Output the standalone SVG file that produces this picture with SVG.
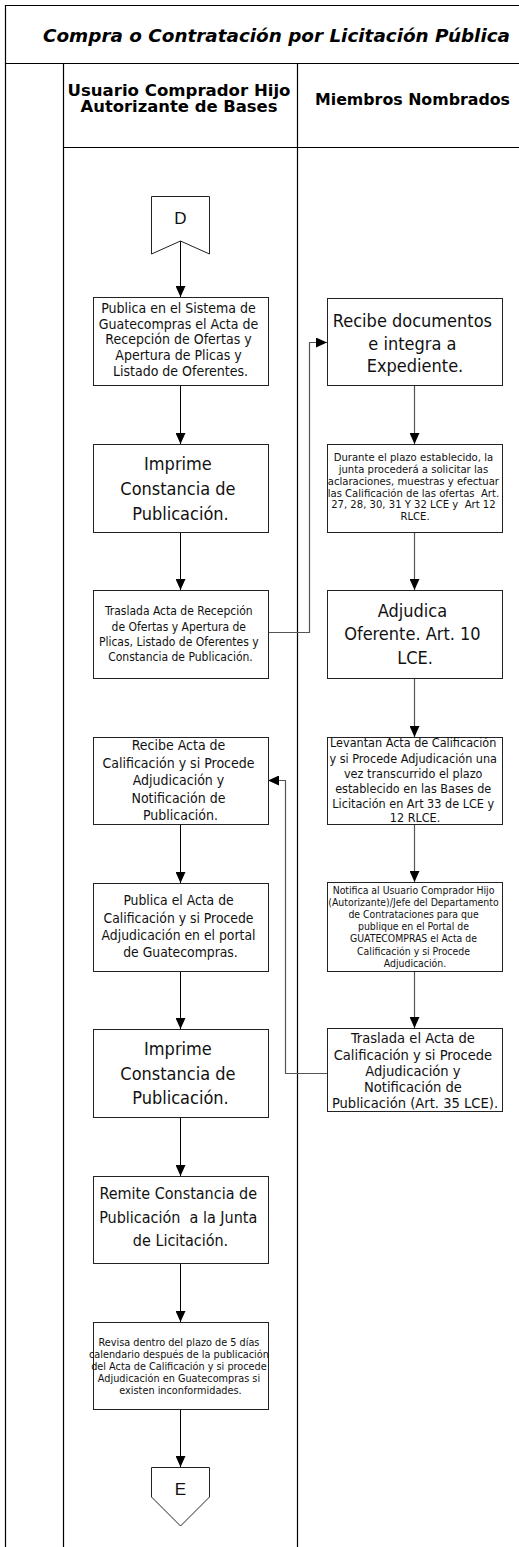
<svg xmlns="http://www.w3.org/2000/svg" width="519" height="1547" viewBox="0 0 519 1547">
  <style>
    .frame { fill: none; stroke: #000; stroke-width: 1.2; }
    .box { fill: #fff; stroke: #222; stroke-width: 1; }
    .conn { fill: none; stroke: #000; stroke-width: 1; }
    .conn2 { fill: none; stroke: #555; stroke-width: 1.2; }
    .t { font-family: "DejaVu Sans Condensed", "DejaVu Sans", sans-serif; fill: #111; text-anchor: middle; }
    .big { font-size: 18px; }
    .lbl { font-family: "Liberation Sans", Arial, sans-serif; fill: #111; text-anchor: middle; font-size: 17px; }
    .title { font-family: "DejaVu Sans", sans-serif; font-weight: bold; font-style: italic; font-size: 18px; text-anchor: middle; fill: #000; }
    .head { font-family: "DejaVu Sans", sans-serif; font-weight: bold; font-size: 16px; text-anchor: middle; fill: #000; }
  </style>
  <defs>
    <marker id="arrow" viewBox="0 0 11 10" refX="11" refY="5" markerWidth="11" markerHeight="10" markerUnits="userSpaceOnUse" orient="auto">
      <path d="M0,0 L11,5 L0,10 z" fill="#000"/>
    </marker>
  </defs>

  <rect width="519" height="1547" fill="#fff"/>

  <!-- swimlane frame -->
  <g id="frame">
    <path class="frame" d="M5.5,1547 V5.5 H519 M5.5,63.5 H519 M63.5,63.5 V1547 M63.5,147.5 H519 M297.5,63.5 V1547"/>
    <text class="title" x="276.5" y="42" textLength="467" lengthAdjust="spacingAndGlyphs">Compra o Contratación por Licitación Pública</text>
    <text class="head" x="179" y="96" textLength="223" lengthAdjust="spacingAndGlyphs">Usuario Comprador Hijo</text>
    <text class="head" x="179" y="112" textLength="197" lengthAdjust="spacingAndGlyphs">Autorizante de Bases</text>
    <text class="head" x="412.5" y="105" textLength="195" lengthAdjust="spacingAndGlyphs">Miembros Nombrados</text>
  </g>

  <!-- connectors -->
  <g id="connectors">
    <path class="conn" d="M180.5,241 V297" marker-end="url(#arrow)"/>
    <path class="conn" d="M180.5,386 V444" marker-end="url(#arrow)"/>
    <path class="conn" d="M180.5,532 V590" marker-end="url(#arrow)"/>
    <path class="conn" d="M180.5,824 V883" marker-end="url(#arrow)"/>
    <path class="conn" d="M180.5,971 V1029" marker-end="url(#arrow)"/>
    <path class="conn" d="M180.5,1117 V1176" marker-end="url(#arrow)"/>
    <path class="conn" d="M180.5,1263 V1322" marker-end="url(#arrow)"/>
    <path class="conn" d="M180.5,1409 V1467" marker-end="url(#arrow)"/>

    <path class="conn2" d="M414.5,386 V444" marker-end="url(#arrow)"/>
    <path class="conn2" d="M414.5,532 V590" marker-end="url(#arrow)"/>
    <path class="conn2" d="M414.5,678 V737" marker-end="url(#arrow)"/>
    <path class="conn2" d="M414.5,824 V882" marker-end="url(#arrow)"/>
    <path class="conn2" d="M414.5,971 V1028" marker-end="url(#arrow)"/>

    <path class="conn2" d="M268,632.5 H309.5 V342.5 H327" marker-end="url(#arrow)"/>
    <path class="conn2" d="M327,1073.5 H285.5 V780.5 H268" marker-end="url(#arrow)"/>
  </g>

  <!-- left lane -->
  <g id="offpage-D">
    <path class="box" d="M151.5,196.5 H209.5 V254 L180.5,241 L151.5,254 Z"/>
    <text class="lbl" x="180.5" y="224">D</text>
  </g>

  <g id="publica-acta-recepcion">
    <rect class="box" x="93.5" y="297.5" width="175" height="88"/>
    <text class="t" font-size="14">
      <tspan x="180.5" y="312.5">Publica en el Sistema de</tspan>
      <tspan x="180.5" y="328.5">Guatecompras el Acta de</tspan>
      <tspan x="180.5" y="344">Recepción de Ofertas y</tspan>
      <tspan x="180.5" y="360">Apertura de Plicas y</tspan>
      <tspan x="180.5" y="376">Listado de Oferentes.</tspan>
    </text>
  </g>

  <g id="imprime-constancia-1">
    <rect class="box" x="93.5" y="444.5" width="175" height="88"/>
    <text class="t big">
      <tspan x="180.5" y="469.5">Imprime</tspan>
      <tspan x="180.5" y="494.5">Constancia de</tspan>
      <tspan x="180.5" y="519.5">Publicación.</tspan>
    </text>
  </g>

  <g id="traslada-acta-recepcion">
    <rect class="box" x="93.5" y="590.5" width="175" height="88"/>
    <text class="t" font-size="12">
      <tspan x="180.5" y="615">Traslada Acta de Recepción</tspan>
      <tspan x="180.5" y="631">de Ofertas y Apertura de</tspan>
      <tspan x="180.5" y="646">Plicas, Listado de Oferentes y</tspan>
      <tspan x="180.5" y="661">Constancia de Publicación.</tspan>
    </text>
  </g>

  <g id="recibe-acta-calificacion">
    <rect class="box" x="93.5" y="737.5" width="175" height="87"/>
    <text class="t" font-size="14">
      <tspan x="180.5" y="750">Recibe Acta de</tspan>
      <tspan x="180.5" y="767.5">Calificación y si Procede</tspan>
      <tspan x="180.5" y="785">Adjudicación y</tspan>
      <tspan x="180.5" y="802.5">Notificación de</tspan>
      <tspan x="180.5" y="820">Publicación.</tspan>
    </text>
  </g>

  <g id="publica-acta-calificacion">
    <rect class="box" x="93.5" y="883.5" width="175" height="88"/>
    <text class="t" font-size="13.8">
      <tspan x="180.5" y="905">Publica el Acta de</tspan>
      <tspan x="180.5" y="923">Calificación y si Procede</tspan>
      <tspan x="180.5" y="940">Adjudicación en el portal</tspan>
      <tspan x="180.5" y="957">de Guatecompras.</tspan>
    </text>
  </g>

  <g id="imprime-constancia-2">
    <rect class="box" x="93.5" y="1029.5" width="175" height="88"/>
    <text class="t big">
      <tspan x="180.5" y="1054.5">Imprime</tspan>
      <tspan x="180.5" y="1079.5">Constancia de</tspan>
      <tspan x="180.5" y="1103.5">Publicación.</tspan>
    </text>
  </g>

  <g id="remite-constancia">
    <rect class="box" x="93.5" y="1176.5" width="175" height="87"/>
    <text class="t" font-size="16">
      <tspan x="180.5" y="1199">Remite Constancia de</tspan>
      <tspan x="180.5" y="1223">Publicación&#160; a la Junta</tspan>
      <tspan x="180.5" y="1246">de Licitación.</tspan>
    </text>
  </g>

  <g id="revisa-inconformidades">
    <rect class="box" x="93.5" y="1322.5" width="175" height="87"/>
    <text class="t" font-size="10.8">
      <tspan x="180.5" y="1346">Revisa dentro del plazo de 5 días</tspan>
      <tspan x="180.5" y="1358">calendario después de la publicación</tspan>
      <tspan x="180.5" y="1370">del Acta de Calificación y si procede</tspan>
      <tspan x="180.5" y="1382">Adjudicación en Guatecompras si</tspan>
      <tspan x="180.5" y="1394">existen inconformidades.</tspan>
    </text>
  </g>

  <g id="offpage-E">
    <path class="box" d="M151.5,1467.5 H209.5 V1497 L180.5,1526 L151.5,1497 Z"/>
    <text class="lbl" x="180.5" y="1495">E</text>
  </g>

  <!-- right lane -->
  <g id="recibe-documentos">
    <rect class="box" x="327.5" y="298.5" width="175" height="87"/>
    <text class="t big">
      <tspan x="415" y="326.5">Recibe documentos</tspan>
      <tspan x="415" y="349.5">e integra a</tspan>
      <tspan x="415" y="371.5">Expediente.</tspan>
    </text>
  </g>

  <g id="calificacion-ofertas">
    <rect class="box" x="327.5" y="444.5" width="175" height="88"/>
    <text class="t" font-size="11.2">
      <tspan x="415" y="461">Durante el plazo establecido, la</tspan>
      <tspan x="415" y="473">junta procederá a solicitar las</tspan>
      <tspan x="415" y="485">aclaraciones, muestras y efectuar</tspan>
      <tspan x="415" y="496.5">las Calificación de las ofertas&#160; Art.</tspan>
      <tspan x="415" y="508">27, 28, 30, 31 Y 32 LCE y&#160; Art 12</tspan>
      <tspan x="415" y="520">RLCE.</tspan>
    </text>
  </g>

  <g id="adjudica-oferente">
    <rect class="box" x="327.5" y="590.5" width="175" height="88"/>
    <text class="t big">
      <tspan x="415" y="616.5">Adjudica</tspan>
      <tspan x="415" y="639.5">Oferente. Art. 10</tspan>
      <tspan x="415" y="663.5">LCE.</tspan>
    </text>
  </g>

  <g id="levantan-acta">
    <rect class="box" x="327.5" y="737.5" width="175" height="87"/>
    <text class="t" font-size="12.5">
      <tspan x="415" y="747">Levantan Acta de Calificación</tspan>
      <tspan x="415" y="763">y si Procede Adjudicación una</tspan>
      <tspan x="415" y="778">vez transcurrido el plazo</tspan>
      <tspan x="415" y="793">establecido en las Bases de</tspan>
      <tspan x="415" y="808">Licitación en Art 33 de LCE y</tspan>
      <tspan x="415" y="822">12 RLCE.</tspan>
    </text>
  </g>

  <g id="notifica-usuario">
    <rect class="box" x="327.5" y="882.5" width="175" height="89"/>
    <text class="t" font-size="10.4">
      <tspan x="415" y="893.5">Notifica al Usuario Comprador Hijo</tspan>
      <tspan x="415" y="905.7">(Autorizante)/Jefe del Departamento</tspan>
      <tspan x="415" y="917.9">de Contrataciones para que</tspan>
      <tspan x="415" y="930.1">publique en el Portal de</tspan>
      <tspan x="415" y="942.3">GUATECOMPRAS el Acta de</tspan>
      <tspan x="415" y="954.5">Calificación y si Procede</tspan>
      <tspan x="415" y="966.7">Adjudicación.</tspan>
    </text>
  </g>

  <g id="traslada-acta-calificacion">
    <rect class="box" x="327.5" y="1028.5" width="175" height="83"/>
    <text class="t" font-size="14.6">
      <tspan x="415" y="1043">Traslada el Acta de</tspan>
      <tspan x="415" y="1059.5">Calificación y si Procede</tspan>
      <tspan x="415" y="1076">Adjudicación y</tspan>
      <tspan x="415" y="1092">Notificación de</tspan>
      <tspan x="415" y="1108">Publicación (Art. 35 LCE).</tspan>
    </text>
  </g>
</svg>
